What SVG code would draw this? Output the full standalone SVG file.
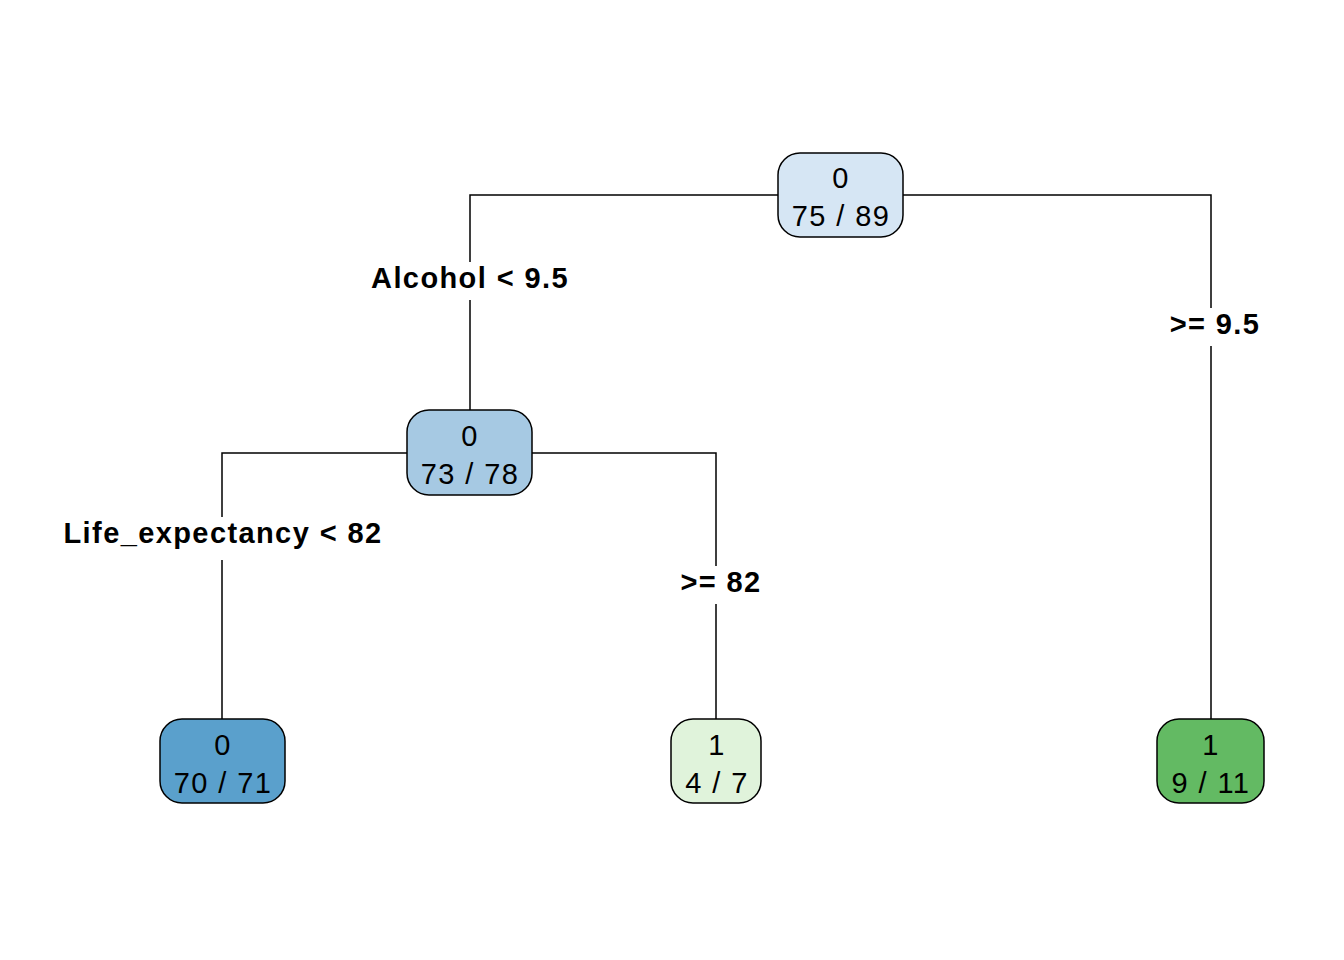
<svg xmlns="http://www.w3.org/2000/svg" width="1344" height="960" viewBox="0 0 1344 960">
<style>
.box{stroke:#000;stroke-width:1.5}
.nt{font-family:"Liberation Sans",Arial,sans-serif;font-size:29px;letter-spacing:1.4px;text-anchor:middle;fill:#000}
.lb{font-family:"Liberation Sans",Arial,sans-serif;font-size:29px;letter-spacing:1.4px;font-weight:bold;text-anchor:middle;fill:#000}
.edge{stroke:#000;stroke-width:1.5;fill:none}
</style>
<rect width="1344" height="960" fill="#fff"/>
<g id="connectors">
<path class="edge" d="M470,262 V195 H778 M903,195 H1211 V308 M1211,346 V719 M470,300 V410"/>
<path class="edge" d="M222,517 V453 H407 M532,453 H716 V566 M716,604 V719 M222,560 V719"/>
<text class="lb" x="470" y="288">Alcohol &lt; 9.5</text>
<text class="lb" x="1215" y="334">&gt;= 9.5</text>
<text class="lb" x="223" y="543">Life_expectancy &lt; 82</text>
<text class="lb" x="721" y="592">&gt;= 82</text>
</g>
<g id="node1">
<rect class="box" x="778" y="153" width="125" height="84" rx="22" fill="#D6E6F4"/>
<text class="nt" x="841" y="188">0</text>
<text class="nt" x="841" y="226">75 / 89</text>
</g>
<g id="node2">
<rect class="box" x="407" y="410" width="125" height="85" rx="22" fill="#A6C9E3"/>
<text class="nt" x="470" y="446">0</text>
<text class="nt" x="470" y="484">73 / 78</text>
</g>
<g id="node4">
<rect class="box" x="160" y="719" width="125" height="84" rx="22" fill="#5AA0CC"/>
<text class="nt" x="223" y="755">0</text>
<text class="nt" x="223" y="793">70 / 71</text>
</g>
<g id="node5">
<rect class="box" x="671" y="719" width="90" height="84" rx="22" fill="#E0F3DB"/>
<text class="nt" x="717" y="755">1</text>
<text class="nt" x="717" y="793">4 / 7</text>
</g>
<g id="node3">
<rect class="box" x="1157" y="719" width="107" height="84" rx="22" fill="#63BA63"/>
<text class="nt" x="1211" y="755">1</text>
<text class="nt" x="1211" y="793">9 / 11</text>
</g>
</svg>
